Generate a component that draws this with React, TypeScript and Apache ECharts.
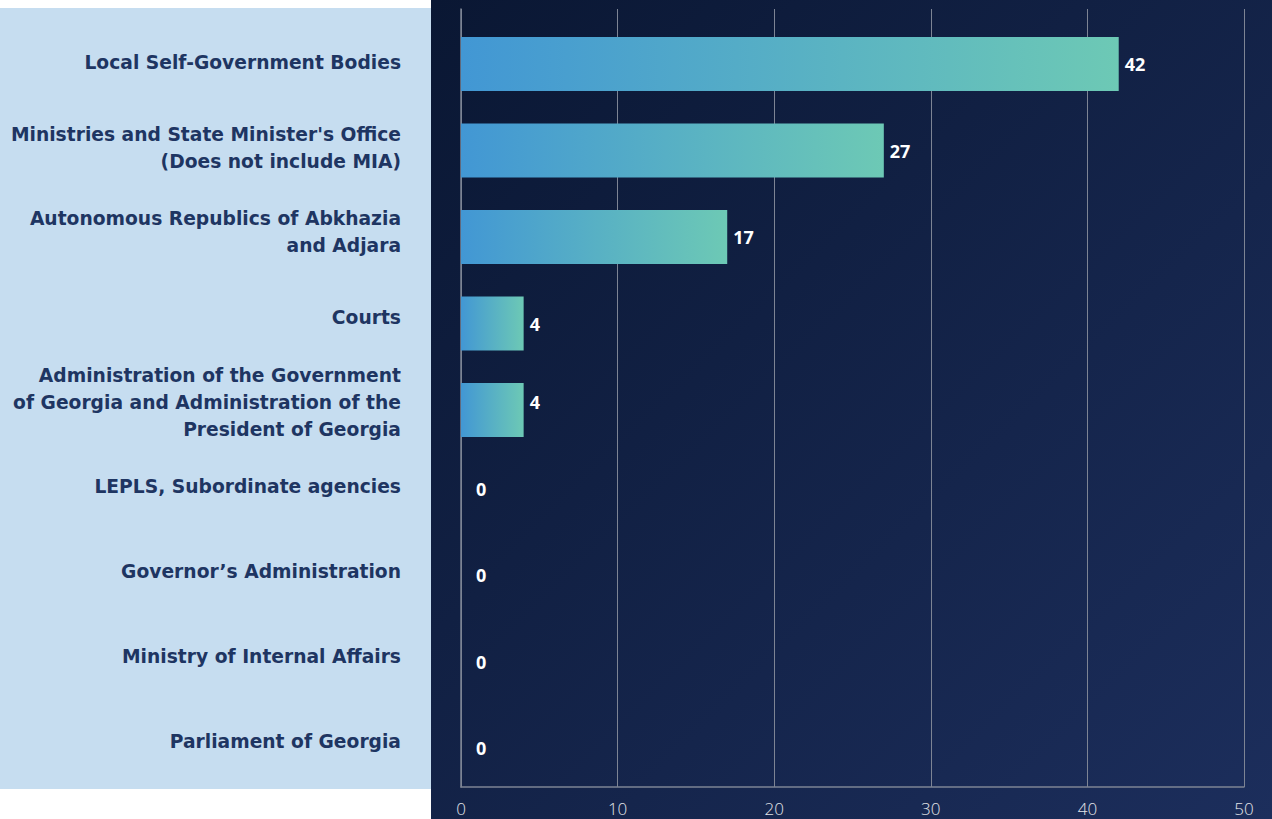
import React, { useEffect, useRef } from "react";
import * as echarts from "echarts";

const categories: string[] = [
  "Local Self-Government Bodies",
  "Ministries and State Minister's Office\n(Does not include MIA)",
  "Autonomous Republics of Abkhazia\nand Adjara",
  "Courts",
  "Administration of the Government\nof Georgia and Administration of the\nPresident of Georgia",
  "LEPLS, Subordinate agencies",
  "Governor’s Administration",
  "Ministry of Internal Affairs",
  "Parliament of Georgia",
];
const values: number[] = [42, 27, 17, 4, 4, 0, 0, 0, 0];
const axisMin = 0;
const axisMax = 50;
const axisInterval = 10;

const W = 1272;
const H = 819;

export default function App() {
  const ref = useRef<HTMLDivElement>(null);
  useEffect(() => {
    if (!ref.current) return;
    const chart = echarts.init(ref.current, undefined, { renderer: "svg" });
    const gridColor = "#7d8494";
    const barData = values.map((v, i) => ({
      value: v,
      label: {
        offset: [v === 0 ? 9 : 0, i >= 4 ? -8 : 0],
      },
    }));
    chart.setOption({
      animation: false,
      backgroundColor: "transparent",
      graphic: [
        {
          type: "rect",
          z: -10,
          silent: true,
          shape: { x: 0, y: 8, width: 431, height: 781 },
          style: { fill: "#c6ddf0" },
        },
        {
          type: "rect",
          z: -10,
          silent: true,
          shape: { x: 431, y: 0, width: W - 431, height: H },
          style: {
            fill: new echarts.graphic.LinearGradient(0, 0, 1, 1, [
              { offset: 0, color: "#0a1733" },
              { offset: 1, color: "#1c2e5c" },
            ]),
          },
        },
      ],
      grid: [
        { left: 461, top: 9, width: 783, height: 778, containLabel: false },
        { left: 461, top: 20.75, width: 783, height: 778.5, containLabel: false },
        { left: 461, top: 20.6, width: 783, height: 762.8, containLabel: false },
      ],
      xAxis: [
        {
          gridIndex: 0,
          type: "value",
          min: axisMin,
          max: axisMax,
          interval: axisInterval,
          axisLine: { show: true, lineStyle: { color: gridColor, width: 1.5 } },
          axisTick: { show: false },
          splitLine: { show: true, lineStyle: { color: gridColor, width: 1 } },
          axisLabel: {
            color: "#e2e4e8",
            fontSize: 17,
            fontFamily: "Open Sans",
            fontWeight: 300,
            margin: 13,
          },
        },
        { gridIndex: 1, type: "value", min: axisMin, max: axisMax, show: false },
        { gridIndex: 2, type: "value", min: axisMin, max: axisMax, show: false },
      ],
      yAxis: [
        {
          gridIndex: 0,
          type: "category",
          data: categories,
          inverse: true,
          axisLine: { show: true, lineStyle: { color: gridColor, width: 1.5 } },
          axisTick: { show: false },
          axisLabel: { show: false },
        },
        {
          gridIndex: 1,
          type: "category",
          data: categories,
          inverse: true,
          show: false,
        },
        {
          gridIndex: 2,
          type: "category",
          data: categories,
          inverse: true,
          axisLine: { show: false },
          axisTick: { show: false },
          axisLabel: {
            margin: 60,
            color: "#1e3562",
            fontSize: 18.7,
            fontWeight: "bold",
            fontFamily: "DejaVu Sans",
            lineHeight: 27,
            align: "right",
          },
        },
      ],
      series: [
        {
          type: "bar",
          xAxisIndex: 1,
          yAxisIndex: 1,
          data: barData,
          barWidth: 54,
          itemStyle: {
            color: new echarts.graphic.LinearGradient(0, 0, 1, 0, [
              { offset: 0, color: "#4297d4" },
              { offset: 1, color: "#6dc9b5" },
            ]),
          },
          label: {
            show: true,
            position: "right",
            distance: 6,
            color: "#ffffff",
            fontSize: 18,
            fontWeight: "bold",
            fontFamily: "Open Sans",
          },
        },
      ],
    });
    return () => chart.dispose();
  }, []);
  return (
    <div
      ref={ref}
      style={{ position: "absolute", left: 0, top: 0, width: W, height: H }}
    />
  );
}
